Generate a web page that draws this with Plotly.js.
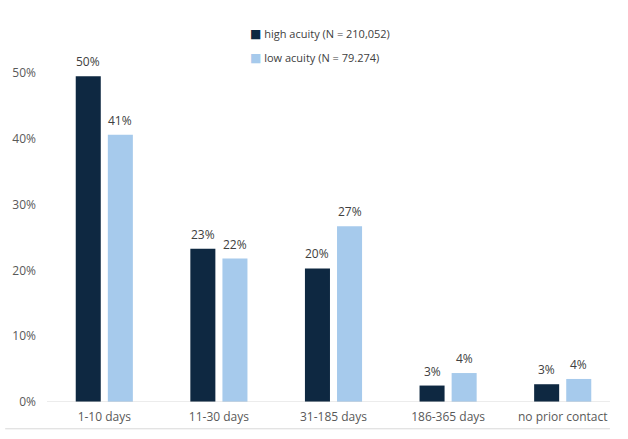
<!DOCTYPE html>
<html>
<head>
<meta charset="utf-8">
<script src="https://cdn.plot.ly/plotly-3.0.1.min.js"></script>
<style>
  html, body { margin: 0; padding: 0; background: #ffffff; }
  #chart { width: 628px; height: 439px; }
</style>
</head>
<body>
<div id="chart"></div>
<script>
// Time since prior contact, share of patients by acuity group
const categories = ['1-10 days', '11-30 days', '31-185 days', '186-365 days', 'no prior contact'];
const highAcuity = [49.5, 23.3, 20.3, 2.5, 2.7];
const lowAcuity = [40.6, 21.8, 26.7, 4.4, 3.5];
const seriesNames = ['high acuity (N = 210,052)', 'low acuity (N = 79.274)'];
const yTicks = [0, 10, 20, 30, 40, 50];
const yTickLabels = ['0%', '10%', '20%', '30%', '40%', '50%'];

const FONT = '"Open Sans", "Liberation Sans", sans-serif';
const DARK = '#0e2841';
const LIGHT = '#a6caec';
const BARGAP = 0.44;
const BARGROUPGAP = 0.22;

const series = [
  { name: seriesNames[0], values: highAcuity, color: DARK },
  { name: seriesNames[1], values: lowAcuity, color: LIGHT }
];

const data = series.map(s => ({
  type: 'bar',
  name: s.name,
  x: categories,
  y: s.values,
  marker: { color: s.color },
  showlegend: false,
  hoverinfo: 'skip'
}));

// value labels above each bar, centred on its slot within the group
const slot = (1 - BARGAP) / series.length;
const annotations = [];
series.forEach((s, si) => {
  const offset = (si - (series.length - 1) / 2) * slot;
  s.values.forEach((v, ci) => {
    annotations.push({
      xref: 'x', yref: 'y',
      x: ci + offset, y: v,
      xanchor: 'center', yanchor: 'bottom',
      yshift: 4,
      showarrow: false,
      text: Math.round(v) + '%',
      font: { family: FONT, size: 12, color: '#404040' }
    });
  });
});

// legend: coloured square plus series name, stacked
series.forEach((s, si) => {
  annotations.push({
    xref: 'paper', yref: 'paper',
    x: 0.35, y: 1.018 - si * 0.066,
    xanchor: 'left', yanchor: 'middle',
    showarrow: false,
    text: '<span style="color:' + s.color + ';font-family:DejaVu Sans;font-size:12px">■</span> ' + s.name,
    font: { family: FONT, size: 11, color: '#404040' }
  });
});

const layout = {
  width: 628,
  height: 439,
  margin: { l: 47, r: 8, t: 40, b: 37 },
  paper_bgcolor: '#ffffff',
  plot_bgcolor: '#ffffff',
  font: { family: FONT, size: 12, color: '#595959' },
  barmode: 'group',
  bargap: BARGAP,
  bargroupgap: BARGROUPGAP,
  showlegend: false,
  xaxis: {
    type: 'category',
    showgrid: false,
    showline: false,
    zeroline: false,
    ticks: '',
    ticklabelstandoff: 6,
    tickfont: { family: FONT, size: 12, color: '#595959' },
    range: [-0.5, 4.5]
  },
  yaxis: {
    range: [0, 55],
    tickvals: yTicks,
    ticktext: yTickLabels,
    showgrid: false,
    zeroline: false,
    showline: false,
    ticks: '',
    ticklabelstandoff: 10,
    tickfont: { family: FONT, size: 12, color: '#595959' }
  },
  annotations: annotations,
  shapes: [
    // baseline along 0%
    { type: 'line', xref: 'paper', yref: 'y', x0: 0, x1: 0.9825, y0: 0, y1: 0,
      line: { color: '#d9d9d9', width: 1 } },
    // lower frame rule beneath the category labels
    { type: 'line', xref: 'paper', yref: 'paper', x0: -0.073, x1: 0.9825, y0: -0.074, y1: -0.074,
      line: { color: '#d9d9d9', width: 1 } }
  ]
};

Plotly.newPlot('chart', data, layout, { displayModeBar: false, staticPlot: true });
</script>
</body>
</html>
